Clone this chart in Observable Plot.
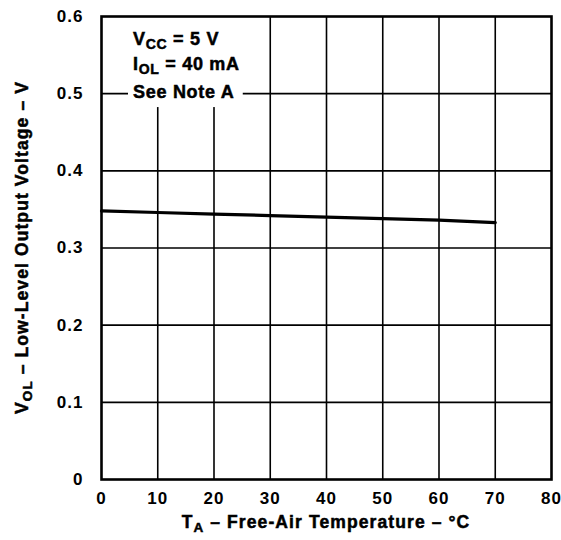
<!DOCTYPE html>
<html>
<head>
<meta charset="utf-8">
<script src="https://cdn.jsdelivr.net/npm/d3@7"></script>
<script src="https://cdn.jsdelivr.net/npm/@observablehq/plot@0.6"></script>
<style>
body { margin: 0; background: #fff; }
svg { font-family: "Liberation Sans", Arial, sans-serif; }
</style>
</head>
<body>
<div id="chart"></div>
<script>
const temps = [0, 10, 20, 30, 40, 50, 60, 70];
const vol = [0.348, 0.346, 0.344, 0.342, 0.340, 0.338, 0.336, 0.333];
const xTicks = [0, 10, 20, 30, 40, 50, 60, 70, 80];
const yTicks = [0, 0.1, 0.2, 0.3, 0.4, 0.5, 0.6];
const noteLines = [
  {main: "V", sub: "CC", rest: " = 5 V"},
  {main: "I", sub: "OL", rest: " = 40 mA"},
  {main: "See Note A", sub: "", rest: ""}
];
const noteY = [0.562, 0.530, 0.494];

const data = temps.map((t, i) => ({t, v: vol[i]}));
const heavy = {stroke: "#000", strokeWidth: 0.5};

const plot = Plot.plot({
  width: 561,
  height: 540,
  marginLeft: 101,
  marginRight: 10,
  marginTop: 16,
  marginBottom: 61,
  style: {fontFamily: "Liberation Sans, Arial, sans-serif", fontWeight: "bold", fontSize: "16px", color: "#000", background: "#fff"},
  x: {domain: [0, 80], label: null},
  y: {domain: [0, 0.6], label: null},
  marks: [
    Plot.ruleX(xTicks.slice(1, -1), {stroke: "#000", strokeWidth: 1.6}),
    Plot.ruleY(yTicks.slice(1, -1), {stroke: "#000", strokeWidth: 1.6}),
    Plot.rect([{x1: 4.8, x2: 25.2, y1: 0.482, y2: 0.599}], {x1: "x1", x2: "x2", y1: "y1", y2: "y2", fill: "#fff"}),
    Plot.frame({stroke: "#000", strokeWidth: 2.6}),
    Plot.line(data, {x: "t", y: "v", stroke: "#000", strokeWidth: 3.2}),
    Plot.axisX({ticks: xTicks, tickSize: 0, tickPadding: 12, tickFormat: d => String(d), fontSize: 17, fontWeight: "bold", label: null, ...heavy}),
    Plot.axisY({ticks: yTicks, tickSize: 0, tickPadding: 18, tickFormat: d => d === 0 ? "0" : d.toFixed(1), fontSize: 17, fontWeight: "bold", label: null, ...heavy})
  ]
});

document.getElementById("chart").appendChild(plot);

const svg = d3.select(plot);
const xs = plot.scale("x");
const ys = plot.scale("y");

// widen tick labels slightly, like the heavy original face
svg.selectAll("g[aria-label='x-axis tick label'] text, g[aria-label='y-axis tick label'] text")
  .attr("letter-spacing", 1);

function styled(sel, size, spacing) {
  return sel.attr("font-size", size)
    .attr("font-weight", "bold")
    .attr("fill", "#000")
    .attr("stroke", "#000")
    .attr("stroke-width", 0.5)
    .attr("letter-spacing", spacing);
}

noteLines.forEach((ln, i) => {
  const t = styled(svg.append("text"), 18, 0.7)
    .attr("x", xs.apply(5.7))
    .attr("y", ys.apply(noteY[i]))
    .attr("text-anchor", "start");
  t.append("tspan").text(ln.main);
  if (ln.sub) {
    t.append("tspan").attr("font-size", 14).attr("dy", 4).text(ln.sub);
    t.append("tspan").attr("dy", -4).text(ln.rest);
  }
});

const xl = styled(svg.append("text"), 17.5, 1.1)
  .attr("x", (xs.apply(0) + xs.apply(80)) / 2)
  .attr("y", 528)
  .attr("text-anchor", "middle");
xl.append("tspan").text("T");
xl.append("tspan").attr("font-size", 13.5).attr("dy", 4).text("A");
xl.append("tspan").attr("dy", -4).text(" \u2013 Free-Air Temperature \u2013 \u00B0C");

const cy = (ys.apply(0) + ys.apply(0.6)) / 2;
const yl = styled(svg.append("text"), 17.5, 1.1)
  .attr("transform", `translate(28,${cy}) rotate(-90)`)
  .attr("text-anchor", "middle");
yl.append("tspan").text("V");
yl.append("tspan").attr("font-size", 13.5).attr("dy", 4).text("OL");
yl.append("tspan").attr("dy", -4).text(" \u2013 Low-Level Output Voltage \u2013 V");
</script>
</body>
</html>
